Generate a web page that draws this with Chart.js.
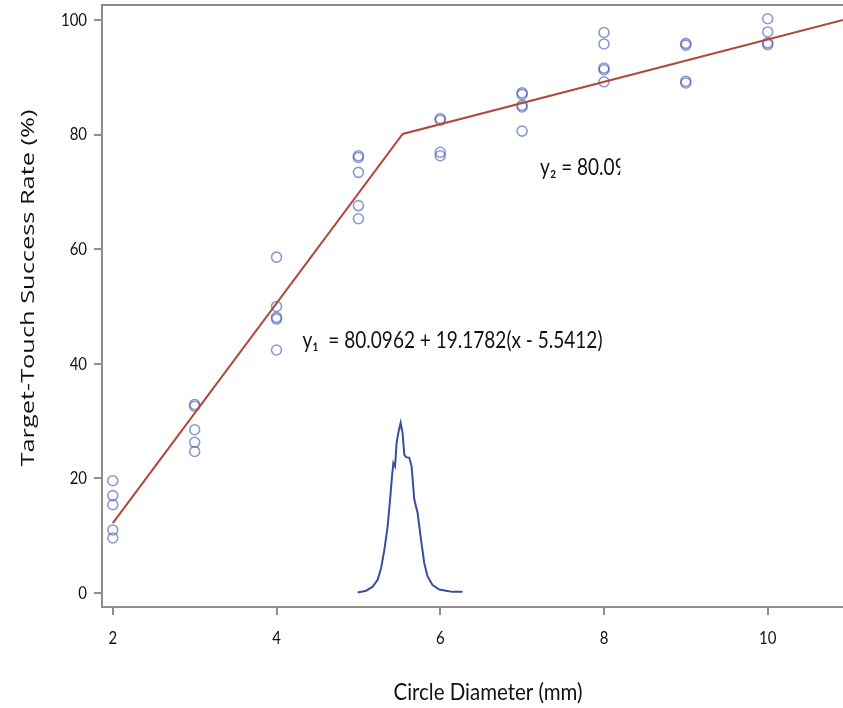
<!DOCTYPE html>
<html>
<head>
<meta charset="utf-8">
<title>Target-Touch Success Rate</title>
<script src="https://cdn.jsdelivr.net/npm/chart.js@4.4.1/dist/chart.umd.min.js"></script>
<style>
  html, body { margin: 0; padding: 0; background: #fff; }
  #wrap { width: 843px; height: 708px; position: relative; overflow: hidden; }
</style>
</head>
<body>
<div id="wrap"><canvas id="grafico" width="843" height="708"></canvas></div>
<script>
// observed success rates per circle diameter
const diametros = [2, 2, 2, 2, 2,
  3, 3, 3, 3, 3,
  4, 4, 4, 4, 4,
  5, 5, 5, 5, 5,
  6, 6, 6, 6,
  7, 7, 7, 7, 7,
  8, 8, 8, 8, 8,
  9, 9, 9, 9,
  10, 10, 10, 10];
const tasas = [19.6, 17.0, 15.4, 11.0, 9.6,
  32.9, 32.6, 28.5, 26.3, 24.7,
  58.6, 50.0, 48.1, 47.8, 42.4,
  76.3, 76.0, 73.4, 67.6, 65.3,
  82.8, 82.5, 76.9, 76.3,
  87.3, 87.0, 85.1, 84.8, 80.6,
  97.8, 95.8, 91.6, 91.3, 89.2,
  95.9, 95.6, 89.3, 89.0,
  100.2, 97.9, 96.0, 95.7];

// broken-stick fit (joint at 5.5412)
const ajusteX = [2, 5.5412, 10.92];
const ajusteY = [12.18, 80.0962, 100];

// density of the breakpoint estimate
const densX = [4.991, 5.094, 5.174, 5.235, 5.277, 5.317, 5.357, 5.387, 5.411, 5.427,
  5.448, 5.467, 5.491, 5.516, 5.540, 5.561, 5.582, 5.622, 5.650, 5.683,
  5.723, 5.765, 5.805, 5.845, 5.906, 5.988, 6.070, 6.150, 6.272];
const densY = [0.1, 0.4, 1.1, 2.3, 4.3, 7.5, 11.6, 16.3, 20.4, 22.7,
  22.1, 26.2, 28.2, 29.7, 27.9, 24.1, 23.7, 23.6, 22.1, 16.3,
  14.0, 9.3, 5.2, 2.9, 1.4, 0.6, 0.4, 0.2, 0.2];

const ticksX = [2, 4, 6, 8, 10];
const ticksY = [0, 20, 40, 60, 80, 100];

const tituloX = 'Circle Diameter (mm)';
const tituloY = 'Target-Touch Success Rate (%)';
const ecuacion1 = 'y\u2081  = 80.0962 + 19.1782(x - 5.5412)';
const ecuacion2 = 'y\u2082 = 80.0962 + 3.7128(x - 5.5412)';

const gris = '#8e8e8e';
const negro = '#111';
const fuenteA = 'Lato, "Liberation Sans", sans-serif';
const fuenteB = '"Open Sans", "DejaVu Sans", sans-serif';

const puntos = diametros.map((d, i) => ({ x: d, y: tasas[i] }));
const lineaAjuste = ajusteX.map((v, i) => ({ x: v, y: ajusteY[i] }));
const densidad = densX.map((v, i) => ({ x: v, y: densY[i] }));

// the original text is squeezed sideways, so each label is drawn with a horizontal scale
function escala(ctx, fuente, texto, ancho) {
  ctx.font = fuente;
  return ancho / ctx.measureText(texto).width;
}

function texto(ctx, t, x, y, fuente, k, align, giro) {
  ctx.save();
  ctx.font = fuente;
  ctx.fillStyle = negro;
  ctx.textAlign = align;
  ctx.textBaseline = 'middle';
  ctx.translate(x, y);
  if (giro) ctx.rotate(giro);
  ctx.scale(k, 1);
  ctx.fillText(t, 0, 0);
  ctx.restore();
}

const extras = {
  id: 'extras',
  beforeDatasetsDraw(chart) {
    const { ctx, chartArea } = chart;
    ctx.save();
    ctx.strokeStyle = gris;
    ctx.lineWidth = 2;
    ctx.beginPath();
    ctx.moveTo(chartArea.left, chartArea.top);
    ctx.lineTo(chartArea.right, chartArea.top);
    ctx.stroke();
    ctx.restore();
  },
  afterDatasetsDraw(chart) {
    const { ctx } = chart;
    const sx = chart.scales.x;
    const sy = chart.scales.y;

    // tick labels
    const fTick = '18px ' + fuenteA;
    const kTick = escala(ctx, fTick, '100', 26);
    ticksY.forEach(v => texto(ctx, String(v), 87, sy.getPixelForValue(v), fTick, kTick, 'right'));
    ticksX.forEach(v => texto(ctx, String(v), sx.getPixelForValue(v), 638, fTick, kTick, 'center'));

    // axis titles
    const fTx = '23px ' + fuenteA;
    texto(ctx, tituloX, 488, 693, fTx, escala(ctx, fTx, tituloX, 189), 'center');
    const fTy = '19px ' + fuenteB;
    texto(ctx, tituloY, 29, 288, fTy, escala(ctx, fTy, tituloY, 357), 'center', -Math.PI / 2);

    // equations
    const fEq = '23px ' + fuenteA;
    const kEq = escala(ctx, fEq, ecuacion1, 300);
    texto(ctx, ecuacion1, sx.getPixelForValue(4.317), sy.getPixelForValue(44.0), fEq, kEq, 'left');
    // second label is cut off in the original
    const x2 = sx.getPixelForValue(7.22);
    const xCorte = sx.getPixelForValue(8.2);
    ctx.save();
    ctx.beginPath();
    ctx.rect(x2 - 5, 0, xCorte - x2 + 5, chart.height);
    ctx.clip();
    texto(ctx, ecuacion2, x2, sy.getPixelForValue(74.3), fEq, kEq, 'left');
    ctx.restore();
  }
};

new Chart(document.getElementById('grafico'), {
  type: 'scatter',
  data: {
    datasets: [{
      label: 'Ajuste',
      data: lineaAjuste,
      showLine: true,
      borderColor: '#b3473a',
      borderWidth: 2,
      pointRadius: 0,
      order: 0
    }, {
      label: 'Observado',
      data: puntos,
      pointStyle: 'circle',
      pointRadius: 5,
      borderWidth: 1.6,
      borderColor: 'rgba(70, 90, 180, 0.62)',
      backgroundColor: 'rgba(0, 0, 0, 0)',
      order: 1
    }, {
      label: 'Densidad',
      data: densidad,
      showLine: true,
      borderColor: '#3b4d9e',
      borderWidth: 2,
      pointRadius: 0,
      tension: 0,
      order: 2
    }]
  },
  options: {
    responsive: false,
    animation: false,
    layout: { autoPadding: false, padding: { top: 5, right: 0, left: 0, bottom: 0 } },
    plugins: {
      legend: { display: false },
      tooltip: { enabled: false }
    },
    scales: {
      x: {
        type: 'linear',
        min: 1.868,
        max: 10.92,
        afterBuildTicks: axis => { axis.ticks = ticksX.map(v => ({ value: v })); },
        afterFit: axis => {
          axis.height = 101;
          axis.paddingLeft = 0;
          axis.paddingRight = 0;
        },
        grid: { drawOnChartArea: false, color: gris, lineWidth: 2, tickLength: 8 },
        border: { color: gris, width: 2 },
        ticks: { display: false }
      },
      y: {
        type: 'linear',
        min: -2.44,
        max: 102.6,
        afterBuildTicks: axis => { axis.ticks = ticksY.map(v => ({ value: v })); },
        afterFit: axis => {
          axis.width = 102;
          axis.paddingTop = 0;
          axis.paddingBottom = 0;
        },
        grid: { drawOnChartArea: false, color: gris, lineWidth: 2, tickLength: 8 },
        border: { color: gris, width: 2 },
        ticks: { display: false }
      }
    }
  },
  plugins: [extras]
});
</script>
</body>
</html>
